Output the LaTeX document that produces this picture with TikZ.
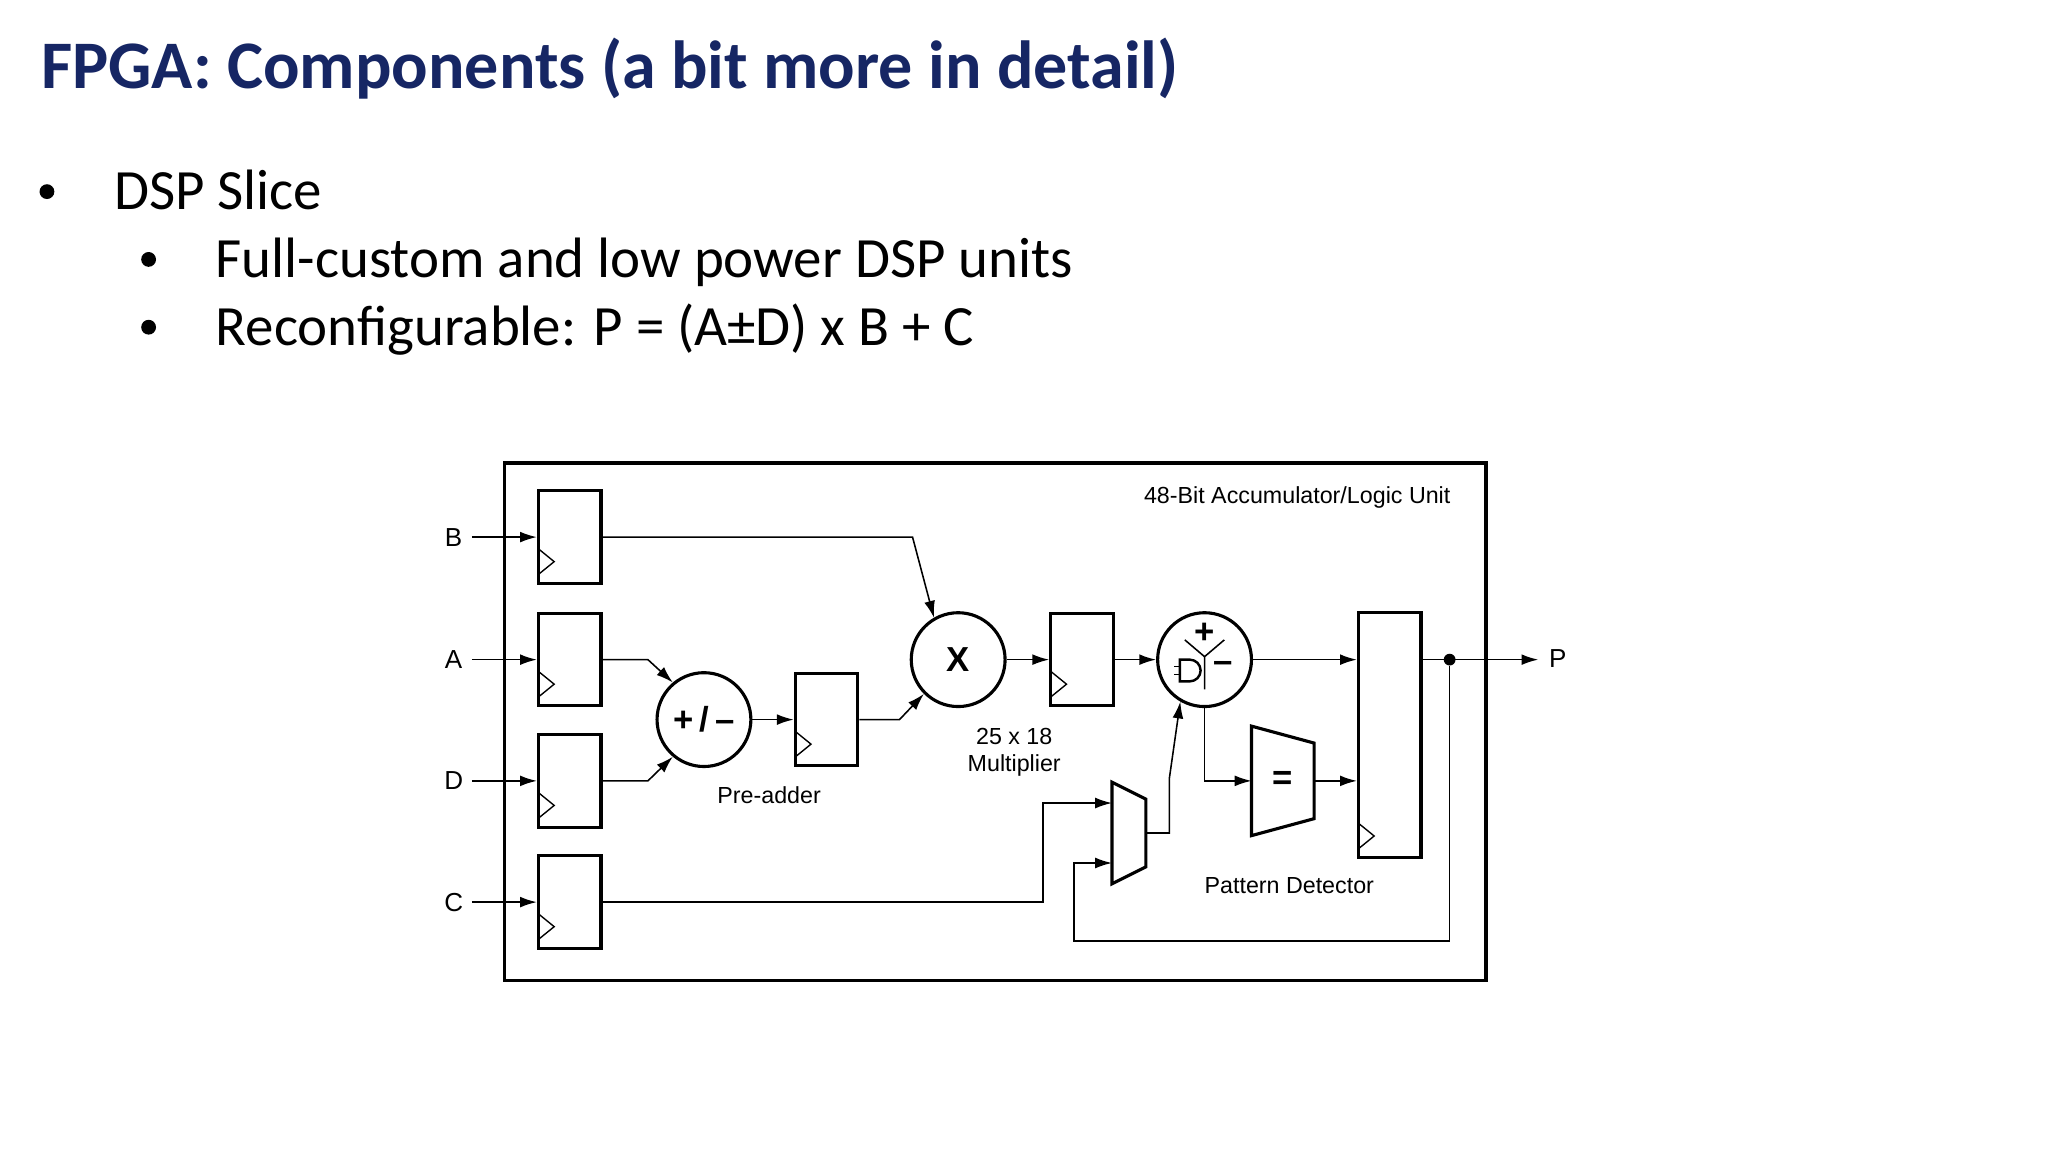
\documentclass[tikz,border=0pt]{standalone}
\usepackage{fontspec}
\setmainfont{Carlito}
\newfontfamily\diagfont{Liberation Sans}
\usetikzlibrary{arrows.meta,positioning}
\definecolor{titleblue}{RGB}{22,38,100}
\begin{document}
\begin{tikzpicture}[x=0.013196cm,y=-0.013196cm,
  arr/.style={-{Latex[length=1.7mm,width=1.1mm]}, line width=0.45pt},
  reg/.style={draw, line width=0.9pt, minimum width=0.634cm, minimum height=0.937cm, inner sep=0pt,
    path picture={\draw[line width=0.4pt] ([shift={(0,0.09cm)}]path picture bounding box.south west)
      -- ++(0.16cm,0.13cm) -- ++(-0.16cm,0.13cm);}},
  op/.style={draw, circle, line width=0.9pt, minimum size=0.95cm, inner sep=0pt, font=\diagfont\bfseries\fontsize{10}{10}\selectfont},
  lbl/.style={font=\diagfont\fontsize{6.7}{8}\selectfont, align=center}]
\useasboundingbox (0,0) rectangle (1571,884);
% slide text
\node[anchor=base west, inner sep=0pt, text=titleblue, font=\bfseries\fontsize{19.6}{22}\selectfont] (title) at (31,68) {FPGA: Components (a bit more in detail)};
\node[anchor=base west, inner sep=0pt, font=\fontsize{16.4}{19}\selectfont] (b1) at (87,161) {DSP Slice};
\node[anchor=base west, inner sep=0pt, font=\fontsize{16.4}{19}\selectfont] (b2) at (165,213) {Full-custom and low power DSP units};
\node[anchor=base west, inner sep=0pt, font=\fontsize{16.4}{19}\selectfont] (b3) at (165,265) {Reconfigurable: P = (A±D) x B + C};
\foreach \x/\y in {36/147, 114/199, 114/251}
  \fill (\x,\y) circle (0.075cm);
% frame
\draw[line width=1pt] (387,355) rectangle (1140,752);
\node[lbl, anchor=east] (unit) at (1122,382) {48-Bit Accumulator/Logic Unit};
% registers
\node[reg] (rB) at (437,412) {};
\node[reg] (rA) at (437,506) {};
\node[reg] (rD) at (437,599) {};
\node[reg] (rC) at (437,692) {};
\node[reg] (rM) at (634,552) {};
\node[reg] (rP) at (830,506) {};
\node[reg, minimum height=2.48cm] (rO) at (1066,564) {};
% operators
\node[op] (pre) at (540,552) {+\,/\,{\fontsize{10}{10}\selectfont\textendash}};
\node[op] (mul) at (735,506) {X};
\node[op] (alu) at (924,506) {};
\begin{scope}[shift={(alu.center)}, x=1cm, y=1cm, line width=0.45pt]
  \draw (-0.2,0.2) -- (0,0.03) -- (0.2,0.2) (0,0.03) -- (0,-0.3);
  \node[font=\diagfont\bfseries\fontsize{10}{10}\selectfont] (plus) at (0,0.27) {+};
  \node[font=\diagfont\bfseries\fontsize{10}{10}\selectfont] (minus) at (0.19,-0.07) {\textendash};
  \draw[line width=0.7pt] (-0.25,0) -- (-0.15,0) arc (90:-90:0.11) -- (-0.25,-0.22) -- cycle;
  \draw (-0.25,-0.07) -- ++(-0.06,0) (-0.25,-0.15) -- ++(-0.06,0);
\end{scope}
% pattern detector and mux
\draw[line width=0.9pt] (960,557) -- (1008,570) -- (1008,628) -- (960,641) -- cycle;
\node[font=\diagfont\bfseries\fontsize{10}{10}\selectfont] (eq) at (984,599) {=};
\draw[line width=0.9pt] (853,600) -- (879,613) -- (879,665) -- (853,678) -- cycle;
\coordinate (muxA) at (853,616);
\coordinate (muxB) at (853,662);
\coordinate (muxO) at (879,639);
\coordinate (eqL) at (960,599);
\coordinate (eqR) at (1008,599);
% labels
\node[lbl] (prelbl) at (590,610) {Pre-adder};
\node[lbl] (mullbl) at (778,577) {25 x 18\\Multiplier};
\node[lbl] (patlbl) at (989,679) {Pattern Detector};
% inputs
\foreach \n/\r/\y in {B/rB/412, A/rA/506, D/rD/599, C/rC/692} {
  \node[lbl, font=\diagfont\fontsize{7.5}{8}\selectfont] (in\n) at (348,\y) {\n};
  \draw[arr] (362,\y) -- (\r.west);
}
% connections
\draw[arr] (rB.east) -- (700,412) -- (mul.120);
\draw[arr] (rA.east) -- (497,506) -- (pre.130);
\draw[arr] (rD.east) -- (497,599) -- (pre.230);
\draw[arr] (pre.east) -- (rM.west);
\draw[arr] (rM.east) -- (690,552) -- (mul.225);
\draw[arr] (mul.east) -- (rP.west);
\draw[arr] (rP.east) -- (alu.west);
\draw[arr] (alu.east) -- (rO.west |- alu.east);
\draw[arr] (alu.south) -- (924,599) -- (eqL);
\draw[arr] (eqR) -- (rO.west |- eqR);
\draw[arr] (rC.east) -- (800,692) -- (800,616) -- (muxA);
\draw[arr] (muxO) -- (897,639) -- (897,597) -- (alu.240);
\node[circle, fill, inner sep=1.2pt] (tap) at (1112,506) {};
\draw[arr] (rO.east |- tap) -- (1180,506);
\node[lbl, font=\diagfont\fontsize{7.5}{8}\selectfont] (outP) at (1195,505) {P};
\draw[arr] (tap) -- (1112,722) -- (824,722) -- (824,662) -- (muxB);
\end{tikzpicture}
\end{document}
